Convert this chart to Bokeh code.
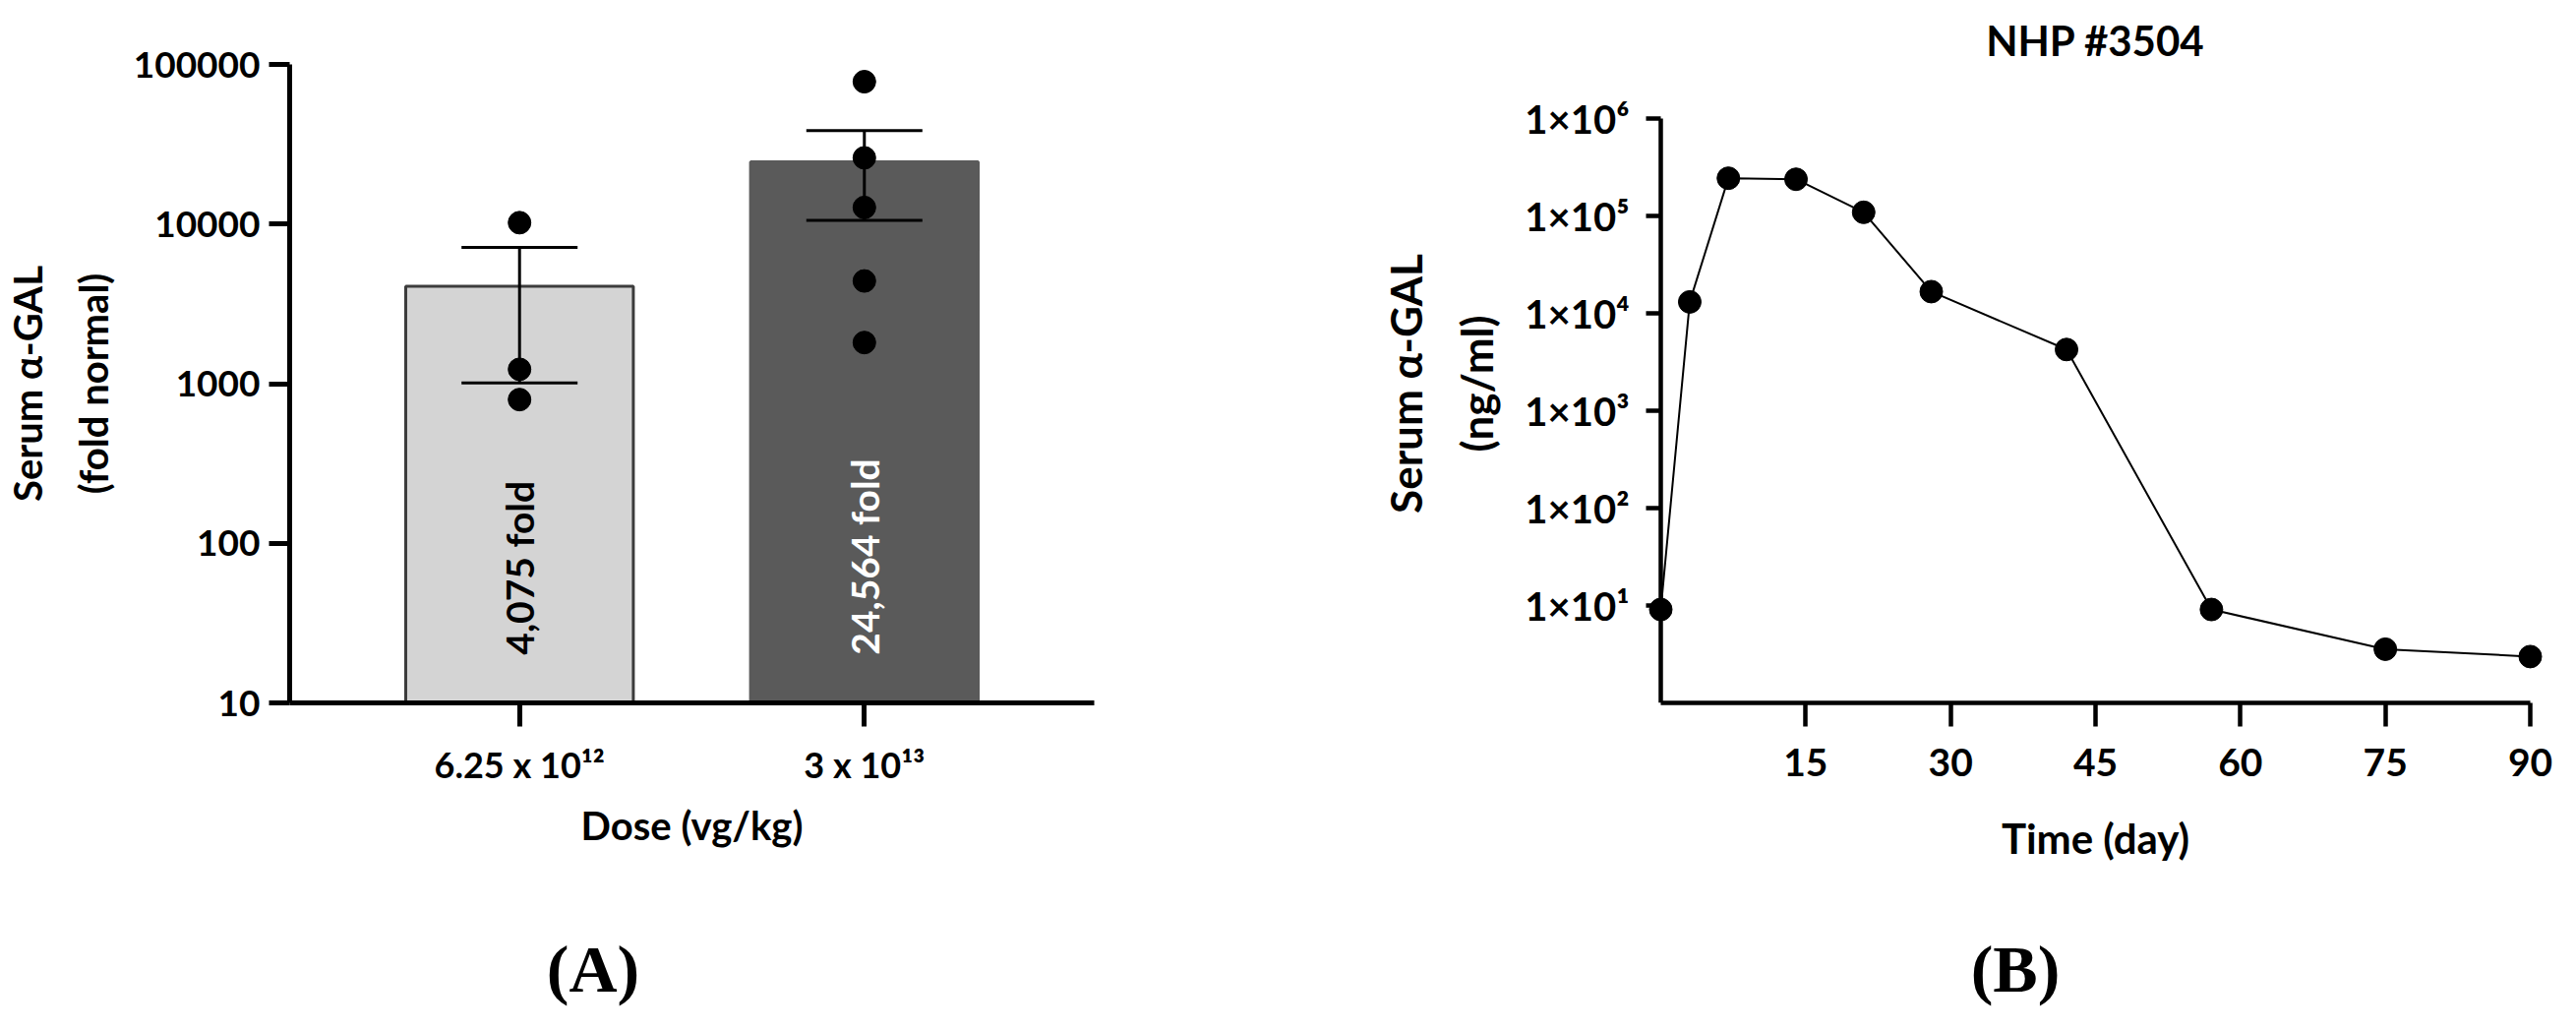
import numpy as np
from bokeh.plotting import figure
from bokeh.layouts import row, column
from bokeh.models import (Range1d, FixedTicker, CustomJSTickFormatter, Whisker, TeeHead,
                          ColumnDataSource, LogAxis, Div, Spacer)
from bokeh.core.properties import value
from bokeh.embed import file_html
from bokeh.resources import INLINE

# ---------------- Panel A data ----------------
dose_labels = ["6.25 x 10\u00b9\u00b2", "3 x 10\u00b9\u00b3"]
group_mean = [4075, 24564]
group_sem = [3065, 14000]
fold_labels = ["4,075 fold", "24,564 fold"]
low_dose_points = [10200, 1230, 795]
high_dose_points = [78000, 26000, 12700, 4400, 1810]
a_yticks = [10, 100, 1000, 10000, 100000]
a_ytick_labels = ["10", "100", "1000", "10000", "100000"]

# ---------------- Panel B data ----------------
days = [0, 3, 7, 14, 21, 28, 42, 57, 75, 90]
serum_gal = [9.1, 13100, 244000, 238000, 109000, 16700, 4250, 9.1, 3.56, 2.99]
b_xticks = [15, 30, 45, 60, 75, 90]
b_xtick_labels = ["15", "30", "45", "60", "75", "90"]
b_yticks = [10, 100, 1000, 10000, 100000, 1000000]
b_ytick_labels = ["1\u00d710\u00b9", "1\u00d710\u00b2", "1\u00d710\u00b3",
                  "1\u00d710\u2074", "1\u00d710\u2075", "1\u00d710\u2076"]

# ---------------- styles ----------------
FONT = "Lato"
bar_fill = ["#d4d4d4", "#5a5a5a"]
bar_line = ["#3c3c3c", "#5a5a5a"]
fold_color = ["black", "white"]

FMT = "const i = tvals.indexOf(tick); return i < 0 ? '' : tlabs[i];"


def fmt(vals, labs):
    return CustomJSTickFormatter(args=dict(tvals=list(vals), tlabs=list(labs)), code=FMT)


def style_axis(ax, lw, tick_out, lab_size, lab_standoff, title_size, title_standoff, tick_in=0):
    ax.axis_line_width = lw
    ax.axis_line_color = "black"
    ax.major_tick_line_width = lw
    ax.major_tick_line_color = "black"
    ax.major_tick_out = tick_out
    ax.major_tick_in = tick_in
    ax.minor_tick_line_color = None
    ax.major_label_text_font = FONT
    ax.major_label_text_font_style = "bold"
    ax.major_label_text_font_size = lab_size
    ax.major_label_text_color = "black"
    ax.major_label_standoff = lab_standoff
    ax.axis_label_text_font = FONT
    ax.axis_label_text_font_style = "bold"
    ax.axis_label_text_font_size = title_size
    ax.axis_label_text_color = "black"
    ax.axis_label_standoff = title_standoff
    ax.axis_label_text_line_height = 1.4


def panel_tag(text, width):
    html = ('<div style="position:relative;top:42px;width:%dpx;line-height:68px;'
            "text-align:center;white-space:nowrap;font-family:'Liberation Serif',serif;"
            'font-weight:bold;font-size:68px;color:black;">%s</div>') % (width, text)
    return Div(text=html, width=width, height=TAG_H)


# shared vertical frame: both panels use the same borders (frames stay aligned)
H, TOP, BOTTOM = 904, 65, 190
TAG_H = 131

# ================= Panel A =================
pA = figure(width=1200, height=H, x_range=Range1d(1 / 3, 8 / 3),
            y_range=Range1d(a_yticks[0], a_yticks[-1]), y_axis_type="log",
            output_backend="svg", toolbar_location=None,
            min_border_left=277, min_border_right=88, min_border_top=TOP, min_border_bottom=BOTTOM)
pA.outline_line_color = None
pA.xgrid.visible = False
pA.ygrid.visible = False
pA.background_fill_color = "white"

xa = [i + 1 for i in range(len(group_mean))]
srcA = ColumnDataSource(dict(
    x=xa, top=group_mean,
    upper=[m + s for m, s in zip(group_mean, group_sem)],
    lower=[m - s for m, s in zip(group_mean, group_sem)],
    fill=bar_fill, line=bar_line, fold=fold_labels, fcol=fold_color,
))
pA.vbar(x="x", top="top", bottom=a_yticks[0], width=0.66, fill_color="fill",
        line_color="line", line_width=3, source=srcA)
pA.text(x="x", y=20, text="fold", angle=np.pi / 2, text_align="left", text_baseline="middle",
        text_color="fcol", text_font=value(FONT), text_font_style="bold",
        text_font_size="39px", source=srcA)
pA.add_layout(Whisker(base="x", upper="upper", lower="lower", source=srcA, line_width=3,
                      line_color="black", level="annotation",
                      upper_head=TeeHead(size=118, line_width=3, line_color="black"),
                      lower_head=TeeHead(size=118, line_width=3, line_color="black")))
pts_x = [xa[0]] * len(low_dose_points) + [xa[1]] * len(high_dose_points)
pts_y = low_dose_points + high_dose_points
pA.scatter(pts_x, pts_y, size=23, color="black", level="overlay")

pA.xaxis.ticker = FixedTicker(ticks=xa)
pA.xaxis.formatter = fmt(xa, dose_labels)
pA.yaxis.ticker = FixedTicker(ticks=a_yticks)
pA.yaxis.formatter = fmt(a_yticks, a_ytick_labels)
pA.xaxis.axis_label = "Dose (vg/kg)"
pA.yaxis.axis_label = "Serum \u03b1-GAL\n(fold normal)"
style_axis(pA.xaxis[0], 5, 24, "36px", 16, "40px", 13)
style_axis(pA.yaxis[0], 5, 21, "37px", 9, "40px", 14)

# ================= Panel B =================
B_PAD = 1.527                      # day units of padding (15 px) so end dots are not clipped
B_YTOP = 10 ** (6 + 55 / 99)       # frame reaches 55 px above the 1x10^6 tick
pB = figure(width=1403, height=H, x_range=Range1d(-B_PAD, 90 + B_PAD),
            y_range=Range1d(1, B_YTOP), y_axis_type="log",
            output_backend="svg", toolbar_location=None,
            min_border_left=473, min_border_right=16, min_border_top=TOP, min_border_bottom=BOTTOM)
pB.outline_line_color = None
pB.xgrid.visible = False
pB.ygrid.visible = False
pB.background_fill_color = "white"

pB.title.text = "NHP #3504"
pB.title.align = "center"
pB.title.vertical_align = "bottom"
pB.title.standoff = 0
pB.title.text_font = FONT
pB.title.text_font_style = "bold"
pB.title.text_font_size = "42px"
pB.title.text_color = "black"

pB.line(days, serum_gal, line_width=2, color="black")
pB.scatter(days, serum_gal, size=23, color="black")

pB.xaxis.ticker = FixedTicker(ticks=b_xticks)
pB.xaxis.formatter = fmt(b_xticks, b_xtick_labels)
pB.xaxis.bounds = (0, 90)
pB.xaxis.axis_label = "Time (day)"
style_axis(pB.xaxis[0], 4.5, 24, "39px", 22, "42px", 35)

# labels-only y axis at the frame edge
pB.yaxis.ticker = FixedTicker(ticks=b_yticks)
pB.yaxis.formatter = fmt(b_yticks, b_ytick_labels)
pB.yaxis.axis_label = "Serum \u03b1-GAL\n(ng/ml)"
style_axis(pB.yaxis[0], 4.5, 0, "40px", 17, "44px", 20)
pB.yaxis.axis_line_color = None
pB.yaxis.major_tick_line_color = None

# line-and-ticks y axis drawn at day 0
yline = LogAxis(fixed_location=0, bounds=(1, b_yticks[-1]), ticker=FixedTicker(ticks=b_yticks),
                formatter=fmt(b_yticks, ["" for _ in b_yticks]))
yline.axis_line_width = 4.5
yline.major_tick_line_width = 4.5
yline.major_tick_out = 24
yline.major_tick_in = 0
yline.minor_tick_line_color = None
yline.major_label_text_font_size = "1px"
pB.add_layout(yline, "left")

# ---------------- panel tags (A) / (B) ----------------
tags = row(panel_tag("(A)", 1196), Spacer(width=638, height=TAG_H), panel_tag("(B)", 400))

layout = column(row(pA, pB), tags)
open("out.html", "w").write(file_html(layout, INLINE))
